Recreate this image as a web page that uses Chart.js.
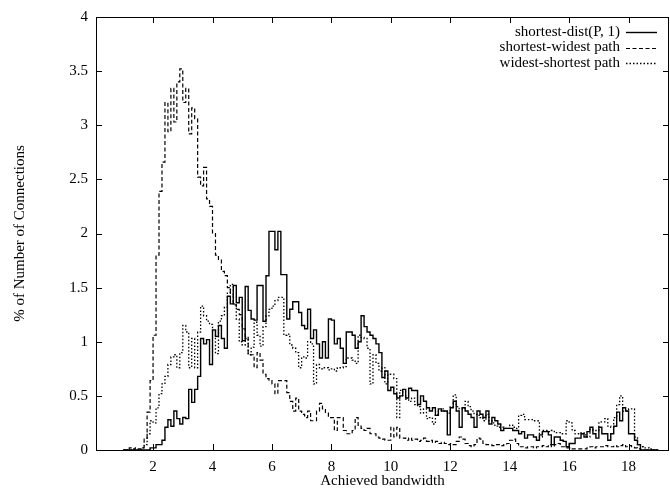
<!DOCTYPE html>
<html>
<head>
<meta charset="utf-8">
<script src="https://cdn.jsdelivr.net/npm/chart.js@4/dist/chart.umd.min.js"></script>
<style>
  html, body { margin: 0; padding: 0; background: #fff; }
</style>
</head>
<body>
<canvas id="chart" width="670" height="495"></canvas>
<script>
// --- Data (histogram bins, width 0.1, first bin starts at 1.0) ---
const binStart = 1.0;
const binWidth = 0.1;
const seriesLabels = ['shortest-dist(P, 1)', 'shortest-widest path', 'widest-shortest path'];
const xTickValues = [2, 4, 6, 8, 10, 12, 14, 16, 18];
const yTickValues = [0, 0.5, 1, 1.5, 2, 2.5, 3, 3.5, 4];

// one row per unit of bandwidth (1.0-1.9, 2.0-2.9, ...)
const shortestDist = [
  0, 0, 0, 0, 0, 0, 0, 0, 0, 0.02,
  0.02, 0.05, 0.05, 0.09, 0.21, 0.28, 0.22, 0.36, 0.29, 0.24,
  0.30, 0.29, 0.56, 0.44, 0.56, 0.68, 1.03, 0.98, 1.02, 0.79,
  1.11, 1.05, 1.15, 1.03, 0.94, 1.42, 1.35, 1.52, 1.36, 1.41,
  1.01, 1.51, 1.29, 1.21, 1.20, 1.52, 1.52, 1.19, 1.61, 2.02,
  2.02, 1.85, 2.02, 1.62, 1.62, 1.21, 1.30, 1.37, 1.37, 1.27,
  1.15, 1.12, 1.30, 1.03, 1.11, 0.98, 0.85, 1.00, 0.85, 1.21,
  1.20, 0.98, 1.03, 0.94, 0.80, 1.09, 1.09, 1.06, 0.94, 1.00,
  1.24, 1.14, 1.09, 1.06, 1.03, 0.98, 0.90, 0.67, 0.73, 0.55,
  0.58, 0.52, 0.48, 0.50, 0.56, 0.48, 0.57, 0.55, 0.55, 0.42,
  0.50, 0.45, 0.39, 0.36, 0.39, 0.32, 0.38, 0.36, 0.36, 0.14,
  0.39, 0.45, 0.36, 0.21, 0.39, 0.36, 0.33, 0.30, 0.21, 0.36,
  0.33, 0.30, 0.36, 0.24, 0.30, 0.27, 0.24, 0.18, 0.20, 0.20,
  0.20, 0.18, 0.18, 0.15, 0.17, 0.11, 0.14, 0.14, 0.12, 0.09,
  0.14, 0.17, 0.17, 0.14, 0.05, 0.12, 0.12, 0.09, 0.08, 0.03,
  0.06, 0.06, 0.11, 0.11, 0.15, 0.12, 0.17, 0.21, 0.15, 0.11,
  0.21, 0.15, 0.15, 0.09, 0.15, 0.22, 0.35, 0.27, 0.39, 0.36,
  0.15, 0.15, 0.09, 0.05, 0, 0, 0, 0, 0, 0
];

const shortestWidest = [
  0, 0, 0.02, 0.01, 0.02, 0.01, 0.02, 0.10, 0.35, 0.64,
  1.06, 1.80, 2.39, 2.66, 3.21, 2.94, 3.34, 3.03, 3.40, 3.52,
  3.21, 3.34, 2.92, 3.16, 3.06, 2.52, 2.44, 2.61, 2.32, 2.25,
  2.00, 1.80, 1.76, 1.65, 1.61, 1.50, 1.45, 1.34, 1.30, 1.25,
  1.12, 1.05, 0.88, 0.88, 0.76, 0.90, 0.83, 0.70, 0.66, 0.64,
  0.61, 0.52, 0.64, 0.64, 0.64, 0.53, 0.45, 0.36, 0.48, 0.36,
  0.33, 0.30, 0.36, 0.27, 0.27, 0.36, 0.43, 0.38, 0.34, 0.30,
  0.30, 0.18, 0.30, 0.30, 0.18, 0.15, 0.15, 0.18, 0.30, 0.22,
  0.20, 0.18, 0.20, 0.15, 0.15, 0.12, 0.11, 0.10, 0.09, 0.09,
  0.21, 0.12, 0.21, 0.11, 0.11, 0.09, 0.11, 0.09, 0.10, 0.08,
  0.09, 0.11, 0.08, 0.09, 0.07, 0.08, 0.06, 0.07, 0.06, 0.05,
  0.06, 0.05, 0.08, 0.12, 0.10, 0.06, 0.04, 0.03, 0.05, 0.11,
  0.10, 0.06, 0.05, 0.05, 0.04, 0.05, 0.05, 0.04, 0.05, 0.06,
  0.09, 0.10, 0.06, 0.03, 0.03, 0.02, 0.03, 0.03, 0.02, 0.03,
  0.03, 0.04, 0.03, 0.05, 0.03, 0.05, 0.06, 0.03, 0.03, 0.02,
  0.02, 0.01, 0.01, 0.01, 0.01, 0.01, 0.02, 0.03, 0.02, 0.03,
  0.03, 0.03, 0.04, 0.03, 0.03, 0.04, 0.03, 0.04, 0.05, 0.03,
  0.04, 0.03, 0.02, 0.01, 0, 0, 0, 0, 0, 0
];

const widestShortest = [
  0, 0, 0, 0, 0, 0, 0.02, 0.05, 0.15, 0.27,
  0.25, 0.39, 0.52, 0.61, 0.68, 0.79, 0.86, 0.88, 0.76, 0.90,
  1.15, 1.09, 0.76, 1.03, 0.76, 1.09, 1.33, 1.24, 1.19, 1.16,
  1.10, 0.89, 1.19, 1.24, 1.32, 1.45, 1.53, 1.35, 1.21, 1.00,
  0.97, 1.03, 0.88, 0.95, 1.18, 1.06, 0.96, 1.14, 1.24, 1.30,
  1.33, 1.38, 1.41, 1.41, 1.06, 1.07, 0.97, 0.94, 0.90, 0.76,
  0.86, 0.85, 1.00, 0.98, 0.61, 0.79, 0.75, 0.76, 0.76, 0.74,
  0.75, 0.73, 0.76, 0.76, 0.77, 0.85, 0.85, 0.83, 0.80, 1.06,
  1.04, 1.03, 0.94, 0.61, 0.88, 0.80, 0.73, 0.76, 0.61, 0.70,
  0.70, 0.66, 0.30, 0.55, 0.50, 0.47, 0.45, 0.48, 0.42, 0.40,
  0.34, 0.38, 0.29, 0.30, 0.24, 0.33, 0.36, 0.38, 0.36, 0.34,
  0.40, 0.51, 0.40, 0.38, 0.38, 0.45, 0.40, 0.36, 0.33, 0.32,
  0.30, 0.27, 0.33, 0.27, 0.25, 0.22, 0.21, 0.21, 0.20, 0.20,
  0.23, 0.21, 0.20, 0.32, 0.33, 0.28, 0.28, 0.28, 0.27, 0.27,
  0.12, 0.18, 0.18, 0.17, 0.18, 0.16, 0.16, 0.15, 0.15, 0.27,
  0.25, 0.18, 0.15, 0.15, 0.16, 0.14, 0.12, 0.19, 0.18, 0.18,
  0.26, 0.26, 0.29, 0.22, 0.21, 0.30, 0.42, 0.50, 0.36, 0.36,
  0.38, 0.38, 0.12, 0.05, 0.03, 0.02, 0.02, 0.01, 0, 0
];

// --- Plot frame ---
const X_MIN = 0.08, X_MAX = 19.36;
const AREA = { left: 96, right: 669, top: 10, bottom: 450 };
const FONT = { family: '"Liberation Serif", "Times New Roman", serif', size: 15 };
const TICK_LEN = 6;

// bins -> step points (closing point at the end of the last bin)
function toSteps(values) {
    const pts = values.map((v, i) => ({ x: +(binStart + i * binWidth).toFixed(2), y: v }));
    pts.push({ x: +(binStart + values.length * binWidth).toFixed(2), y: 0 });
    return pts;
}

const lineStyles = [
    { dash: [], width: 1.4 },
    { dash: [4, 2.5], width: 1.2 },
    { dash: [1.5, 2], width: 1.3 },
];

// gnuplot-like frame: border, inward ticks on all four sides, key at top right
const framePlugin = {
    id: 'frame',
    afterDraw(chart) {
        const { ctx, chartArea: a, scales } = chart;
        ctx.save();
        ctx.strokeStyle = '#000';
        ctx.lineWidth = 1;
        ctx.setLineDash([]);
        ctx.strokeRect(a.left + 0.5, a.top + 0.5, a.right - a.left - 1, a.bottom - a.top);

        ctx.beginPath();
        yTickValues.forEach(v => {
            const y = Math.round(scales.y.getPixelForValue(v)) + 0.5;
            ctx.moveTo(a.left, y); ctx.lineTo(a.left + TICK_LEN, y);
            ctx.moveTo(a.right, y); ctx.lineTo(a.right - TICK_LEN, y);
        });
        xTickValues.forEach(v => {
            const x = Math.round(scales.x.getPixelForValue(v)) + 0.5;
            ctx.moveTo(x, a.bottom); ctx.lineTo(x, a.bottom - TICK_LEN);
            ctx.moveTo(x, a.top); ctx.lineTo(x, a.top + TICK_LEN);
        });
        ctx.stroke();

        // key
        ctx.font = `${FONT.size}px ${FONT.family}`;
        ctx.fillStyle = '#000';
        ctx.textAlign = 'right';
        ctx.textBaseline = 'middle';
        chart.data.datasets.forEach((ds, i) => {
            const y = 32 + i * 15.5;
            ctx.fillText(ds.label, 620, y);
            ctx.beginPath();
            ctx.setLineDash(ds.borderDash || []);
            ctx.lineWidth = ds.borderWidth;
            ctx.moveTo(626, Math.round(y) + 0.5);
            ctx.lineTo(657, Math.round(y) + 0.5);
            ctx.stroke();
        });
        ctx.restore();
    }
};

const allSeries = [shortestDist, shortestWidest, widestShortest];

new Chart(document.getElementById('chart'), {
    type: 'line',
    data: {
        datasets: allSeries.map((values, i) => ({
            label: seriesLabels[i],
            data: toSteps(values),
            borderColor: '#000',
            borderWidth: lineStyles[i].width,
            borderDash: lineStyles[i].dash,
            stepped: true,
            pointRadius: 0,
            fill: false,
        }))
    },
    options: {
        responsive: false,
        animation: false,
        devicePixelRatio: 1,
        layout: { padding: { top: AREA.top, right: 670 - AREA.right, bottom: 0, left: 0 } },
        plugins: { legend: { display: false }, tooltip: { enabled: false } },
        scales: {
            x: {
                type: 'linear',
                min: X_MIN,
                max: X_MAX,
                afterBuildTicks: s => { s.ticks = xTickValues.map(v => ({ value: v })); },
                afterFit: s => { s.height = 495 - AREA.bottom; },
                grid: { display: false, drawTicks: false },
                border: { display: false },
                ticks: { color: '#000', font: FONT, padding: 8, maxRotation: 0, autoSkip: false, callback: v => String(v) },
                title: { display: true, text: 'Achieved bandwidth', color: '#000', font: FONT, padding: { top: 0, bottom: 5 } }
            },
            y: {
                min: 0,
                max: 4,
                afterBuildTicks: s => { s.ticks = yTickValues.map(v => ({ value: v })); },
                afterFit: s => { s.width = AREA.left; },
                grid: { display: false, drawTicks: false },
                border: { display: false },
                ticks: { color: '#000', font: FONT, padding: 8, callback: v => String(v) },
                title: { display: true, text: '% of Number of Connections', color: '#000', font: FONT, padding: { top: 11, bottom: 0 } }
            }
        }
    },
    plugins: [framePlugin]
});
</script>
</body>
</html>
